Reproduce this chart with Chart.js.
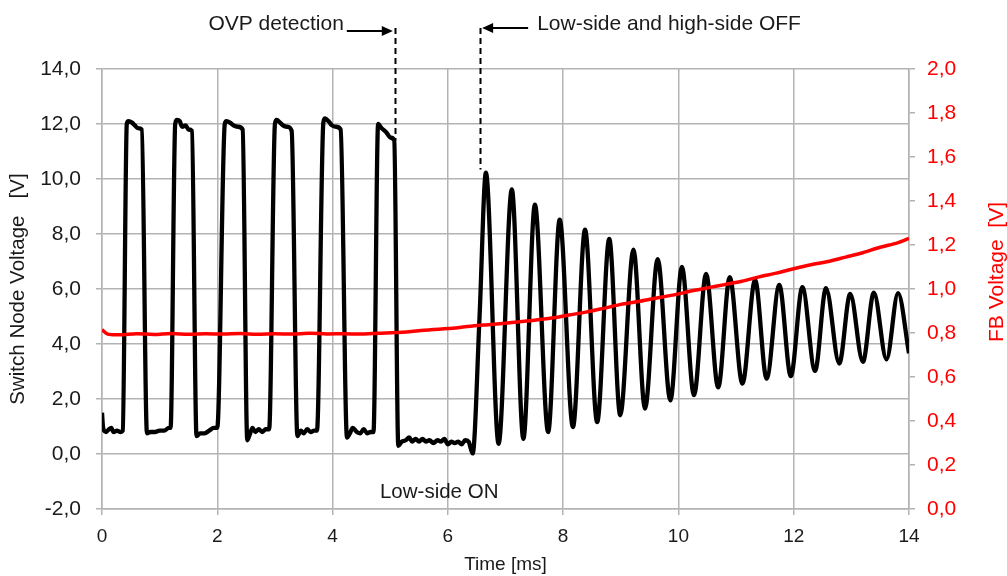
<!DOCTYPE html>
<html>
<head>
<meta charset="utf-8">
<script src="https://cdn.jsdelivr.net/npm/chart.js@4.4.1/dist/chart.umd.min.js"></script>
<style>
  body { margin: 0; background: #fff; }
  #wrap { width: 1007px; height: 576px; }
</style>
</head>
<body>
<div id="wrap"><canvas id="chart" width="1007" height="576"></canvas></div>
<script>
// Switch node voltage [V] vs time [ms]
const swTime = [
    0.00, 0.02, 0.07, 0.12, 0.16, 0.20, 0.26, 0.32, 0.36,
    0.43, 0.46, 0.52, 0.57, 0.62, 0.69,
    0.78, 0.84, 0.92, 1.00, 1.08, 1.16, 1.19,
    1.27, 1.30, 1.35, 1.39, 1.45, 1.50, 1.56,
    1.64, 1.70, 1.78, 1.86, 1.94, 2.00,
    2.13, 2.16, 2.22, 2.28, 2.36, 2.44,
    2.52, 2.57, 2.61, 2.66, 2.72, 2.78, 2.84, 2.90,
    3.00, 3.03, 3.09, 3.14, 3.21, 3.29,
    3.39, 3.45, 3.50, 3.56, 3.62, 3.68, 3.73,
    3.84, 3.87, 3.93, 3.99, 4.06, 4.14,
    4.25, 4.30, 4.35, 4.42, 4.48, 4.54, 4.60, 4.66, 4.71,
    4.79, 4.85, 4.93, 5.01, 5.07,
    5.14, 5.20, 5.27, 5.33, 5.38, 5.44, 5.50, 5.56, 5.62, 5.68, 5.75,
    5.82, 5.88, 5.94, 6.00, 6.06, 6.12, 6.18, 6.24, 6.30, 6.36, 6.43,
    6.55, 6.66, 6.88, 7.11, 7.31, 7.51, 7.74, 7.94, 8.17, 8.38, 8.59,
    8.80, 8.99, 9.22, 9.42, 9.64, 9.86, 10.06, 10.27, 10.48, 10.69,
    10.89, 11.11, 11.33, 11.53, 11.75, 11.95, 12.15, 12.37, 12.56,
    12.79, 12.98, 13.20, 13.39, 13.61, 13.81, 14.00
];
const swVolt = [
    1.5, 0.95, 0.8, 0.9, 0.95, 0.8, 0.85, 0.8, 0.85,
    12.0, 12.1, 12.05, 11.95, 11.85, 11.8,
    0.75, 0.8, 0.8, 0.85, 0.85, 0.95, 0.95,
    12.0, 12.15, 12.1, 11.9, 11.95, 11.8, 11.75,
    0.65, 0.75, 0.75, 0.85, 0.95, 0.95,
    12.0, 12.1, 12.05, 11.95, 11.9, 11.8,
    0.5, 0.75, 0.95, 0.8, 0.9, 0.8, 0.9, 0.9,
    12.0, 12.15, 12.05, 11.95, 11.9, 11.75,
    0.65, 0.85, 0.75, 0.9, 0.8, 0.85, 0.85,
    12.05, 12.2, 12.1, 11.95, 11.9, 11.8,
    0.6, 0.75, 0.95, 0.8, 0.75, 0.9, 0.75, 0.8, 0.8,
    12.0, 11.85, 11.7, 11.5, 11.4,
    0.3, 0.45, 0.5, 0.6, 0.45, 0.55, 0.45, 0.55, 0.45, 0.5, 0.4,
    0.5, 0.45, 0.55, 0.35, 0.45, 0.4, 0.45, 0.35, 0.5, 0.45, 0.02,
    5.0, 10.23, 0.37, 9.62, 0.55, 9.07, 0.80, 8.52, 0.98, 8.16, 1.16,
    7.82, 1.41, 7.43, 1.65, 7.09, 1.95, 6.8, 2.14, 6.55, 2.42,
    6.43, 2.56, 6.33, 2.74, 6.15, 2.83, 6.07, 3.02, 6.03,
    3.29, 5.82, 3.35, 5.87, 3.44, 5.85, 3.66
];

// FB voltage [V] vs time [ms]
const fbTime = [
    0.0, 0.1, 0.3, 0.6, 0.9, 1.2, 1.5, 1.8, 2.1, 2.4, 2.7, 3.0, 3.3, 3.6,
    3.9, 4.2, 4.5, 4.8, 5.1, 5.4, 5.7, 6.0, 6.3, 6.6, 6.9, 7.2, 7.5, 7.8,
    8.1, 8.4, 8.7, 9.0, 9.3, 9.6, 9.9, 10.2, 10.5, 10.8, 11.1, 11.4, 11.7,
    12.0, 12.3, 12.6, 12.9, 13.2, 13.5, 13.8, 14.0
];
const fbVolt = [
    0.815, 0.795, 0.792, 0.797, 0.793, 0.798, 0.794, 0.797, 0.795, 0.798, 0.794, 0.797, 0.795, 0.799,
    0.796, 0.797, 0.795, 0.799, 0.802, 0.808, 0.815, 0.820, 0.828, 0.836, 0.842, 0.850, 0.858, 0.868,
    0.882, 0.895, 0.912, 0.930, 0.943, 0.958, 0.972, 0.990, 1.005, 1.020, 1.035, 1.055, 1.072,
    1.092, 1.110, 1.125, 1.145, 1.165, 1.190, 1.210, 1.230
];

// annotation markers: time [ms] and where the dashed line stops [V]
const markTime = [5.08, 6.56];
const markVolt = [11.4, 10.35];
const markLabels = ["OVP detection", "Low-side and high-side OFF"];
const lowSideLabel = "Low-side ON";
const lowSideAt = { t: 5.85, v: -1.59 };

const FONT = "'Liberation Sans', Arial, sans-serif";
const GRID = "#b3b3b3";
const INK = "#1a1a1a";

function comma(value, digits) {
    return Number(value).toFixed(digits).replace(".", ",");
}

function drawArrow(ctx, fromX, toX, y) {
    const dir = toX > fromX ? 1 : -1;
    ctx.beginPath();
    ctx.moveTo(fromX, y);
    ctx.lineTo(toX - dir * 9, y);
    ctx.stroke();
    ctx.beginPath();
    ctx.moveTo(toX, y);
    ctx.lineTo(toX - dir * 11, y - 5);
    ctx.lineTo(toX - dir * 11, y + 5);
    ctx.closePath();
    ctx.fill();
}

const annotationPlugin = {
    id: "annotations",
    afterDraw(chart) {
        const { ctx, scales } = chart;
        const x = scales.x;
        const y = scales.y;
        ctx.save();
        ctx.strokeStyle = "#000";
        ctx.fillStyle = "#000";
        ctx.lineWidth = 2;

        // dashed marker lines
        ctx.setLineDash([6, 4]);
        markTime.forEach((t, i) => {
            const px = Math.round(x.getPixelForValue(t)) + 0.5;
            ctx.beginPath();
            ctx.moveTo(px, 28);
            ctx.lineTo(px, y.getPixelForValue(markVolt[i]));
            ctx.stroke();
        });
        ctx.setLineDash([]);

        // arrows
        const x1 = x.getPixelForValue(markTime[0]);
        const x2 = x.getPixelForValue(markTime[1]);
        drawArrow(ctx, x1 - 48, x1 - 2, 31);
        drawArrow(ctx, x2 + 48, x2 + 2, 28);

        // labels
        ctx.fillStyle = INK;
        ctx.font = "21px " + FONT;
        ctx.textBaseline = "alphabetic";
        ctx.textAlign = "right";
        ctx.fillText(markLabels[0], x1 - 51, 30);
        ctx.textAlign = "left";
        ctx.fillText(markLabels[1], x2 + 57, 30);
        ctx.textAlign = "center";
        ctx.font = "20.5px " + FONT;
        ctx.fillText(lowSideLabel, x.getPixelForValue(lowSideAt.t), y.getPixelForValue(lowSideAt.v));

        // right axis title, reading bottom to top
        ctx.fillStyle = "#ff0000";
        ctx.font = "21px " + FONT;
        ctx.translate(997, 272);
        ctx.rotate(-Math.PI / 2);
        ctx.textAlign = "center";
        ctx.textBaseline = "middle";
        ctx.fillText("FB Voltage  [V]", 0, 0);
        ctx.restore();
    }
};

const switchData = swTime.map((t, i) => ({ x: t, y: swVolt[i] }));
const fbData = fbTime.map((t, i) => ({ x: t, y: fbVolt[i] }));

new Chart(document.getElementById("chart"), {
    type: "line",
    data: {
        datasets: [
            {
                label: "FB Voltage",
                data: fbData,
                yAxisID: "y1",
                borderColor: "#ff0000",
                borderWidth: 3.5,
                pointRadius: 0,
                tension: 0.3
            },
            {
                label: "Switch Node Voltage",
                data: switchData,
                yAxisID: "y",
                borderColor: "#000000",
                borderWidth: 4.3,
                pointRadius: 0,
                cubicInterpolationMode: "monotone"
            }
        ]
    },
    options: {
        responsive: false,
        animation: false,
        devicePixelRatio: 1,
        layout: { padding: { top: 69, left: 0, right: 0, bottom: 0 } },
        plugins: {
            legend: { display: false },
            tooltip: { enabled: false }
        },
        scales: {
            x: {
                type: "linear",
                min: 0,
                max: 14,
                afterFit: (s) => { s.height = 67; },
                ticks: {
                    stepSize: 2,
                    color: INK,
                    padding: 10,
                    maxRotation: 0,
                    font: { family: FONT, size: 19 }
                },
                grid: { color: GRID, lineWidth: 1.5, tickLength: 6 },
                border: { color: GRID, width: 1.5 },
                title: {
                    display: true,
                    text: "Time [ms]",
                    color: INK,
                    padding: { top: 0, bottom: 0 },
                    font: { family: FONT, size: 19 }
                }
            },
            y: {
                position: "left",
                min: -2,
                max: 14,
                afterFit: (s) => { s.width = 102; },
                ticks: {
                    stepSize: 2,
                    color: INK,
                    padding: 15,
                    font: { family: FONT, size: 21 },
                    callback: (v) => comma(v, 1)
                },
                grid: { color: GRID, lineWidth: 1.5, tickLength: 6 },
                border: { color: GRID, width: 1.5 },
                title: {
                    display: true,
                    text: "Switch Node Voltage   [V]",
                    color: INK,
                    padding: { top: 6, bottom: 0 },
                    font: { family: FONT, size: 20.5 }
                }
            },
            y1: {
                position: "right",
                min: 0,
                max: 2,
                afterFit: (s) => { s.width = 98; },
                ticks: {
                    stepSize: 0.2,
                    color: "#ff0000",
                    padding: 12,
                    font: { family: FONT, size: 21 },
                    callback: (v) => comma(v, 1)
                },
                grid: { drawOnChartArea: false, color: GRID, lineWidth: 1.5, tickLength: 6 },
                border: { color: GRID, width: 1.5 }
            }
        }
    },
    plugins: [annotationPlugin]
});
</script>
</body>
</html>
